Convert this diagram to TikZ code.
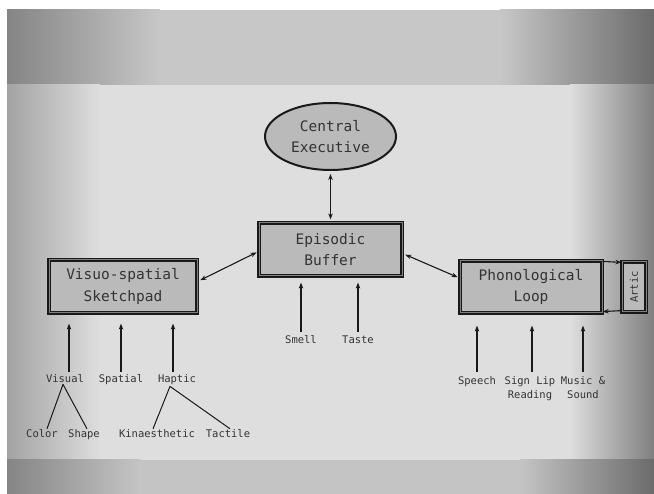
\documentclass[tikz,border=0pt]{standalone}
\usepackage{fontspec}
\setmonofont{DejaVu Sans Mono}
\usetikzlibrary{shapes.geometric,arrows.meta}
\definecolor{ink}{gray}{0.1}
\definecolor{txt}{gray}{0.2}
\definecolor{boxfill}{gray}{0.73}
\definecolor{boxedge}{gray}{0.5}
\definecolor{scrL}{gray}{0.64}
\definecolor{scrM}{gray}{0.87}
\definecolor{scrR}{gray}{0.5}
\definecolor{topL}{gray}{0.52}
\definecolor{topM}{gray}{0.78}
\definecolor{topR}{gray}{0.42}
\definecolor{botL}{gray}{0.52}
\definecolor{botM}{gray}{0.77}
\definecolor{botR}{gray}{0.42}
\newcommand{\boxfont}{\ttfamily\fontsize{14.5}{21.5}\selectfont}
\newcommand{\lblfont}{\ttfamily\fontsize{10.5}{14}\selectfont}
\begin{document}
\begin{tikzpicture}[x=1pt,y=-1pt,
  box/.style={rectangle,draw=ink,double=boxedge,double distance=1pt,line width=1.2pt,
    fill=boxfill,text=txt,font=\boxfont,align=center,inner sep=0pt},
  exec/.style={ellipse,draw=ink,line width=2pt,fill=boxfill,text=txt,font=\boxfont,
    align=center,inner sep=0pt},
  lbl/.style={font=\lblfont,text=txt,inner sep=1pt,anchor=base,align=center},
  arr/.style={-{Stealth[length=6pt,width=4.5pt]},draw=ink,line width=1.1pt},
  darr/.style={{Stealth[length=6pt,width=4.5pt]}-{Stealth[length=6pt,width=4.5pt]},draw=ink,line width=1.1pt},
  twig/.style={draw=ink,line width=1pt}]
  % 屏幕背景
  \useasboundingbox (0,0) rectangle (654,494);
  \fill[white] (0,0) rectangle (654,494);
  \fill[topM] (7,10) rectangle (654,85);
  \shade[left color=topL,right color=topM] (7,10) rectangle (160,85);
  \shade[left color=topM,right color=topR] (500,10) rectangle (654,85);
  \fill[scrM] (7,85) rectangle (654,460);
  \shade[left color=scrL,right color=scrM] (7,85) rectangle (100,460);
  \shade[left color=scrM,right color=scrR] (570,85) rectangle (654,460);
  \fill[botM] (7,460) rectangle (654,494);
  \shade[left color=botL,right color=botM] (7,460) rectangle (140,494);
  \shade[left color=botM,right color=botR] (520,460) rectangle (654,494);

  % 主要模块
  \node[exec,minimum width=131pt,minimum height=67pt] (ce) at (330.5,136.5) {Central\\Executive};
  \node[box,minimum width=143pt,minimum height=53pt] (eb) at (330.5,249.5) {Episodic\\Buffer};
  \node[box,minimum width=148pt,minimum height=53pt] (vs) at (123,286.5) {Visuo-spatial\\Sketchpad};
  \node[box,minimum width=142pt,minimum height=52pt] (pl) at (531,287) {Phonological\\Loop};
  \node[box,minimum width=24pt,minimum height=50pt,font=\lblfont] (artic) at (634,287) {\rotatebox{90}{Artic}};

  % 模块之间的箭头
  \draw[darr,shorten <=3pt,shorten >=3pt] (ce.south) -- (eb.north);
  \draw[darr,shorten <=3pt,shorten >=2pt] ([yshift=5pt]vs.east) -- ([yshift=-2pt]eb.west);
  \draw[darr,shorten <=3pt,shorten >=2pt] ([yshift=-4pt]eb.east) -- ([yshift=9pt]pl.west);
  \draw[arr] ([yshift=-1pt]pl.north east) -- ([yshift=-1pt]artic.north west);
  \draw[arr] ([yshift=2pt]artic.south west) -- ([yshift=2pt]pl.south east);

  % 视觉空间输入
  \node[lbl] (visual) at (65,383) {Visual};
  \node[lbl] (spatial) at (121,383) {Spatial};
  \node[lbl] (haptic) at (177,383) {Haptic};
  \node[lbl] (color) at (42,438) {Color};
  \node[lbl] (shape) at (84,438) {Shape};
  \node[lbl] (kin) at (157,438) {Kinaesthetic};
  \node[lbl] (tactile) at (228,438) {Tactile};
  \draw[arr,shorten <=2pt,shorten >=10pt] ([xshift=4pt]visual.north) -- ([xshift=4pt]visual.north |- vs.south);
  \draw[arr,shorten <=2pt,shorten >=10pt] (spatial.north) -- (spatial.north |- vs.south);
  \draw[arr,shorten <=2pt,shorten >=10pt] ([xshift=-4pt]haptic.north) -- ([xshift=-4pt]haptic.north |- vs.south);
  \draw[twig] ([xshift=-2pt]visual.south) -- ([xshift=5pt]color.north);
  \draw[twig] ([xshift=-2pt]visual.south) -- ([xshift=3pt]shape.north);
  \draw[twig] ([xshift=-7pt]haptic.south) -- ([xshift=-4pt]kin.north);
  \draw[twig] ([xshift=-7pt]haptic.south) -- ([xshift=2pt]tactile.north);

  % 缓冲器输入
  \node[lbl] (smell) at (301,344) {Smell};
  \node[lbl] (taste) at (358,344) {Taste};
  \draw[arr,shorten <=3pt,shorten >=6pt] (smell.north) -- (smell.north |- eb.south);
  \draw[arr,shorten <=3pt,shorten >=6pt] (taste.north) -- (taste.north |- eb.south);

  % 语音输入
  \node[lbl,anchor=north] (speech) at (477,375) {Speech};
  \node[lbl,anchor=north] (sign) at (530,375) {Sign Lip\\Reading};
  \node[lbl,anchor=north] (music) at (583,375) {Music \&\\Sound};
  \draw[arr,shorten <=3pt,shorten >=12pt] (speech.north) -- (speech.north |- pl.south);
  \draw[arr,shorten <=3pt,shorten >=12pt] ([xshift=2pt]sign.north) -- ([xshift=2pt]sign.north |- pl.south);
  \draw[arr,shorten <=3pt,shorten >=12pt] (music.north) -- (music.north |- pl.south);
\end{tikzpicture}
\end{document}
